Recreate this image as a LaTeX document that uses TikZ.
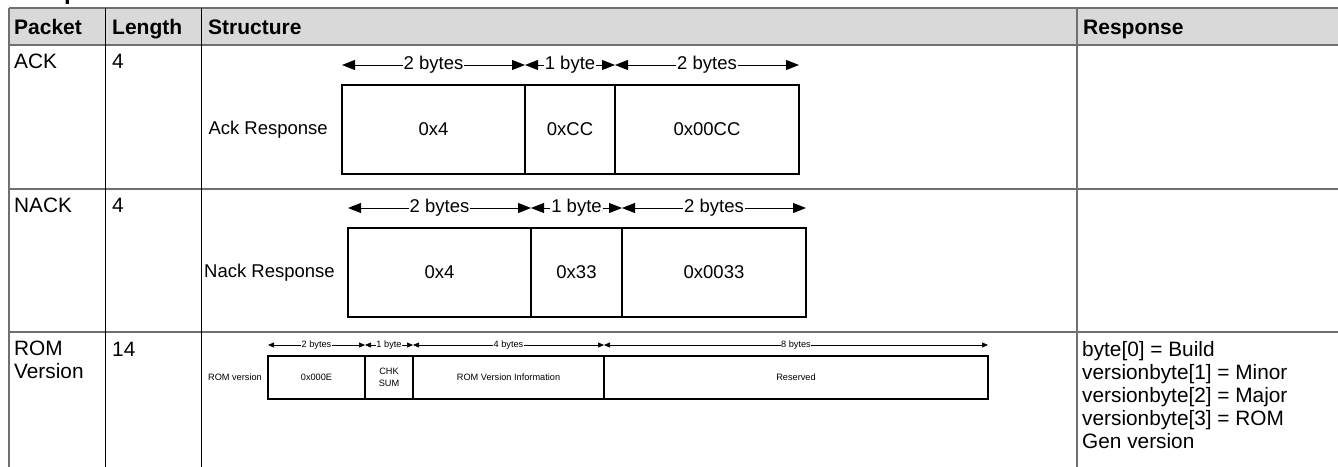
\documentclass[tikz,border=0pt]{standalone}
\usepackage{fontspec}
\setmainfont{Liberation Sans}
\usetikzlibrary{arrows.meta,positioning}
\definecolor{hdrfill}{HTML}{D9D9D9}
\definecolor{rule}{HTML}{707070}

\tikzset{
  hrule/.style={draw=rule, line width=1.6pt},
  grule/.style={draw=rule, line width=1.2pt},
  vrule/.style={draw=black, line width=0.9pt},
  hd/.style={font=\bfseries\fontsize{21}{24}\selectfont, anchor=base west, inner sep=0pt},
  txt/.style={font=\fontsize{20.8}{23}\selectfont, anchor=base west, inner sep=0pt},
  field/.style={draw, line width=2pt, anchor=north west, inner sep=0pt, outer sep=0pt,
    minimum height=89pt, font=\fontsize{18.5}{21}\selectfont},
  fieldsm/.style={draw, line width=1.3pt, anchor=north west, inner sep=0pt, outer sep=0pt,
    minimum height=43pt, align=center, font=\fontsize{9.2}{12}\selectfont},
  span/.style={{Triangle[length=13pt,width=10pt]}-{Triangle[length=13pt,width=10pt]}, line width=1pt},
  spansm/.style={{Triangle[length=6pt,width=5pt]}-{Triangle[length=6pt,width=5pt]}, line width=0.6pt},
  spanlbl/.style={fill=white, inner sep=1pt, font=\fontsize{18.5}{21}\selectfont},
  spanlblsm/.style={fill=white, inner sep=0.5pt, font=\fontsize{9.2}{11}\selectfont},
  rowlbl/.style={font=\fontsize{18.5}{21}\selectfont, inner sep=0pt},
  rowlblsm/.style={font=\fontsize{9.2}{11}\selectfont, inner sep=0pt}
}

\begin{document}
\begin{tikzpicture}[x=1pt,y=-1pt]
\useasboundingbox (0,0) rectangle (1338,466);
\clip (0,0) rectangle (1338,466);

% section title, mostly above the page
\node[font=\bfseries\fontsize{24}{28}\selectfont, anchor=base west, inner sep=0pt] (title) at (20,-1) {Response Structure};

% table frame
\fill[hdrfill] (9,8) rectangle (1345,45);
\foreach \yy in {8,45,189,332} \draw[hrule] (9,\yy) -- (1345,\yy);
\draw[grule] (9,8) -- (9,470);
\draw[grule] (1077,8) -- (1077,470);
\draw[vrule] (105.7,8) -- (105.7,470);
\draw[vrule] (201.7,8) -- (201.7,470);

% header
\node[hd] (hPacket) at (14,34) {Packet};
\node[hd] (hLength) at (112,34) {Length};
\node[hd] (hStruct) at (208,34) {Structure};
\node[hd] (hResp) at (1083,34) {Response};

% ACK row
\node[txt] (pAck) at (14,68) {ACK};
\node[txt] (lAck) at (112,68) {4};
\node[field, minimum width=183pt] (ak1) at (342,85) {0x4};
\node[field, minimum width=90pt]  (ak2) at (525,85) {0xCC};
\node[field, minimum width=184pt] (ak3) at (615,85) {0x00CC};
\node[rowlbl, left=14pt of ak1] (akLbl) {Ack Response};
\draw[span] ([yshift=20pt]ak1.north west) -- node[spanlbl] {2 bytes} ([yshift=20pt]ak1.north east);
\draw[span] ([yshift=20pt]ak2.north west) -- node[spanlbl] {1 byte} ([yshift=20pt]ak2.north east);
\draw[span] ([yshift=20pt]ak3.north west) -- node[spanlbl] {2 bytes} ([yshift=20pt]ak3.north east);

% NACK row
\node[txt] (pNack) at (14,212) {NACK};
\node[txt] (lNack) at (112,212) {4};
\node[field, minimum width=183pt] (nk1) at (348,228) {0x4};
\node[field, minimum width=91pt]  (nk2) at (531,228) {0x33};
\node[field, minimum width=184pt] (nk3) at (622,228) {0x0033};
\node[rowlbl, left=13pt of nk1] (nkLbl) {Nack Response};
\draw[span] ([yshift=20pt]nk1.north west) -- node[spanlbl] {2 bytes} ([yshift=20pt]nk1.north east);
\draw[span] ([yshift=20pt]nk2.north west) -- node[spanlbl] {1 byte} ([yshift=20pt]nk2.north east);
\draw[span] ([yshift=20pt]nk3.north west) -- node[spanlbl] {2 bytes} ([yshift=20pt]nk3.north east);

% ROM version row
\node[txt, align=left, anchor=north west] (pRom) at (14,341) {ROM\\Version};
\node[txt] (lRom) at (112,356) {14};
\node[fieldsm, minimum width=97pt]  (rv1) at (268,356) {0x000E};
\node[fieldsm, minimum width=48pt]  (rv2) at (365,356) {CHK\\SUM};
\node[fieldsm, minimum width=191pt] (rv3) at (413,356) {ROM Version Information};
\node[fieldsm, minimum width=384pt] (rv4) at (604,356) {Reserved};
\node[rowlblsm, left=6pt of rv1] (rvLbl) {ROM version};
\draw[spansm] ([yshift=11pt]rv1.north west) -- node[spanlblsm] {2 bytes} ([yshift=11pt]rv1.north east);
\draw[spansm] ([yshift=11pt]rv2.north west) -- node[spanlblsm] {1 byte} ([yshift=11pt]rv2.north east);
\draw[spansm] ([yshift=11pt]rv3.north west) -- node[spanlblsm] {4 bytes} ([yshift=11pt]rv3.north east);
\draw[spansm] ([yshift=11pt]rv4.north west) -- node[spanlblsm] {8 bytes} ([yshift=11pt]rv4.north east);
\node[txt, align=left, anchor=north west] (rRom) at (1082,341)
  {byte[0] = Build\\versionbyte[1] = Minor\\versionbyte[2] = Major\\versionbyte[3] = ROM\\Gen version};
\end{tikzpicture}
\end{document}
